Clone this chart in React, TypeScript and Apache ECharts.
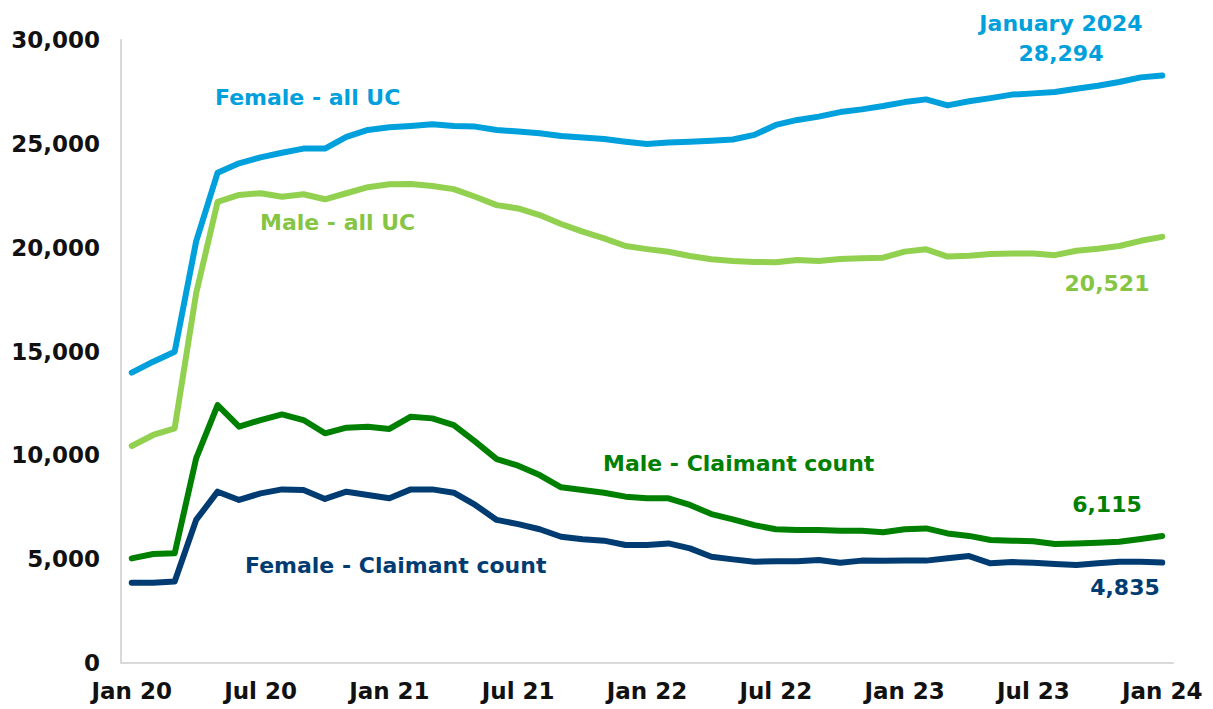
import React, { useEffect, useRef } from "react";
import * as echarts from "echarts";

const months = [
  "Jan 20", "Feb 20", "Mar 20", "Apr 20", "May 20", "Jun 20", "Jul 20", "Aug 20", "Sep 20", "Oct 20", "Nov 20", "Dec 20",
  "Jan 21", "Feb 21", "Mar 21", "Apr 21", "May 21", "Jun 21", "Jul 21", "Aug 21", "Sep 21", "Oct 21", "Nov 21", "Dec 21",
  "Jan 22", "Feb 22", "Mar 22", "Apr 22", "May 22", "Jun 22", "Jul 22", "Aug 22", "Sep 22", "Oct 22", "Nov 22", "Dec 22",
  "Jan 23", "Feb 23", "Mar 23", "Apr 23", "May 23", "Jun 23", "Jul 23", "Aug 23", "Sep 23", "Oct 23", "Nov 23", "Dec 23",
  "Jan 24",
];

const femaleAllUC = [
  13980, 14510, 14990, 20300, 23610, 24060, 24350, 24570, 24770, 24770, 25340, 25670,
  25800, 25860, 25940, 25860, 25830, 25670, 25590, 25510, 25380, 25310, 25230, 25100,
  24990, 25060, 25100, 25150, 25210, 25430, 25910, 26150, 26310, 26530, 26660, 26820,
  27010, 27140, 26850, 27050, 27200, 27370, 27430, 27500, 27650, 27800, 27980, 28200,
  28294,
];

const maleAllUC = [
  10450, 10980, 11300, 17800, 22210, 22540, 22620, 22450, 22570, 22330, 22620, 22910,
  23050, 23070, 22970, 22820, 22450, 22050, 21890, 21570, 21140, 20770, 20450, 20080,
  19930, 19800, 19600, 19440, 19360, 19310, 19300, 19410, 19360, 19450, 19490, 19520,
  19810, 19920, 19570, 19610, 19690, 19720, 19720, 19640, 19850, 19950, 20080, 20330,
  20521,
];

const maleClaimant = [
  5040, 5250, 5280, 9850, 12420, 11380, 11700, 11970, 11700, 11060, 11330, 11380,
  11270, 11860, 11780, 11460, 10660, 9820, 9500, 9050, 8460, 8330, 8200, 8010,
  7930, 7930, 7610, 7170, 6920, 6640, 6440, 6400, 6400, 6370, 6370, 6300,
  6440, 6480, 6240, 6120, 5920, 5890, 5860, 5730, 5760, 5790, 5840, 5970,
  6115,
];

const femaleClaimant = [
  3870, 3870, 3920, 6890, 8250, 7850, 8170, 8360, 8330, 7900, 8250, 8090,
  7930, 8360, 8360, 8200, 7610, 6890, 6690, 6440, 6080, 5960, 5890, 5680,
  5680, 5760, 5520, 5120, 4990, 4880, 4900, 4900, 4960, 4830, 4930, 4920,
  4930, 4930, 5040, 5150, 4800, 4860, 4830, 4770, 4720, 4800, 4880, 4880,
  4835,
];

const seriesNames = ["Female - all UC", "Male - all UC", "Male - Claimant count", "Female - Claimant count"];
const endPeriodLabel = "January 2024";

const BLUE = "#00A0DC";
const LIGHT_GREEN = "#92D050";
const LIGHT_GREEN_TEXT = "#86C544";
const DARK_GREEN = "#008000";
const NAVY = "#003C71";
const FONT = "DejaVu Sans, Verdana, sans-serif";

const fmt = (v: number) => v.toLocaleString("en-GB");
const last = (a: number[]) => a[a.length - 1];

export default function App() {
  const ref = useRef<HTMLDivElement>(null);

  useEffect(() => {
    if (!ref.current) return;
    const chart = echarts.init(ref.current, null, { renderer: "svg" });
    const mkSeries = (name: string, data: number[], color: string) => ({
      name,
      type: "line",
      data,
      symbol: "none",
      smooth: false,
      lineStyle: { color, width: 6, cap: "round", join: "round" },
      itemStyle: { color },
    });
    const txt = (text: string, x: number, y: number, color: string, align = "left") => ({
      type: "text",
      x,
      y,
      style: {
        text,
        fill: color,
        font: `bold 22px ${FONT}`,
        textAlign: align,
        textVerticalAlign: "middle",
      },
    });
    chart.setOption({
      animation: false,
      backgroundColor: "#ffffff",
      grid: { left: 121, right: 40, top: 40, bottom: 46, containLabel: false },
      xAxis: {
        type: "category",
        data: months,
        boundaryGap: true,
        axisLine: { show: true, lineStyle: { color: "#d9d9d9", width: 2 } },
        axisTick: { show: false },
        axisLabel: {
          interval: 5,
          color: "#111111",
          fontFamily: FONT,
          fontWeight: "bold",
          fontSize: 23,
          margin: 16,
        },
        splitLine: { show: false },
      },
      yAxis: {
        type: "value",
        min: 0,
        max: 30000,
        interval: 5000,
        axisLine: { show: true, lineStyle: { color: "#d9d9d9", width: 2 } },
        axisTick: { show: false },
        splitLine: { show: false },
        axisLabel: {
          color: "#111111",
          fontFamily: FONT,
          fontWeight: "bold",
          fontSize: 23,
          margin: 21,
          formatter: (v: number) => fmt(v),
        },
      },
      series: [
        mkSeries(seriesNames[3], femaleClaimant, NAVY),
        mkSeries(seriesNames[2], maleClaimant, DARK_GREEN),
        mkSeries(seriesNames[1], maleAllUC, LIGHT_GREEN),
        mkSeries(seriesNames[0], femaleAllUC, BLUE),
      ],
      graphic: [
        txt(endPeriodLabel, 1061, 23, BLUE, "center"),
        txt(fmt(last(femaleAllUC)), 1061, 53, BLUE, "center"),
        txt(seriesNames[0], 215, 97, BLUE),
        txt(seriesNames[1], 260, 222, LIGHT_GREEN_TEXT),
        txt(fmt(last(maleAllUC)), 1107, 283, LIGHT_GREEN_TEXT, "center"),
        txt(seriesNames[2], 603, 463, DARK_GREEN),
        txt(fmt(last(maleClaimant)), 1107, 504, DARK_GREEN, "center"),
        txt(seriesNames[3], 245, 565, NAVY),
        txt(fmt(last(femaleClaimant)), 1125, 587, NAVY, "center"),
      ],
    });
    return () => chart.dispose();
  }, []);

  return (
    <div
      ref={ref}
      style={{ position: "fixed", left: 0, top: 0, width: 1213, height: 709, background: "#fff" }}
    />
  );
}
